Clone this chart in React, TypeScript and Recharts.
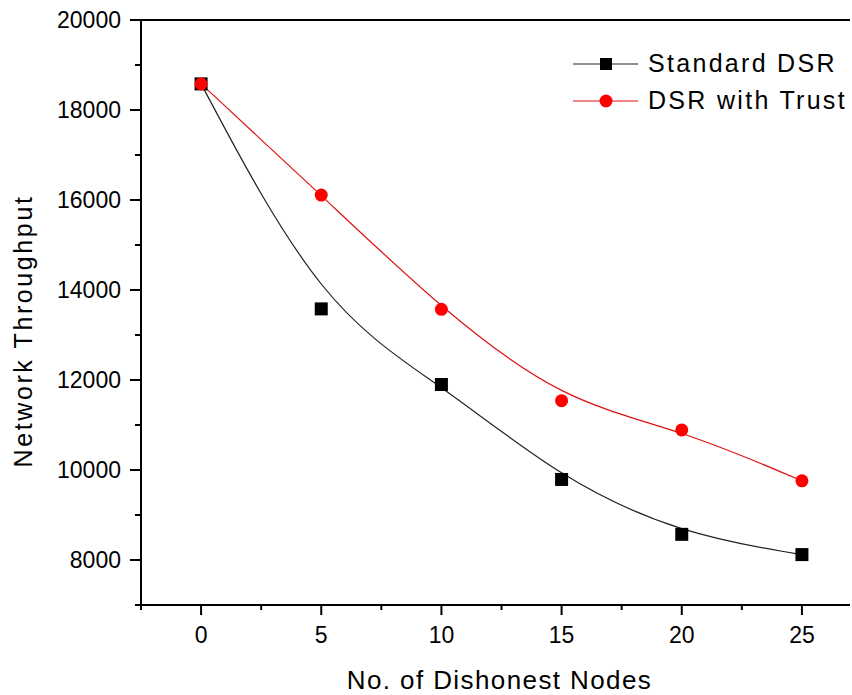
import React from "react";
import { LineChart, Line, XAxis, YAxis, ReferenceLine, Legend } from "recharts";

// dishonest node counts and measured throughput per scheme
const nodes = [0, 5, 10, 15, 20, 25];
const standardDsr = [18580, 13580, 11900, 9790, 8570, 8120];
const dsrWithTrust = [18580, 16110, 13570, 11540, 10890, 9760];

const xTicks = [-2.5, 0, 2.5, 5, 7.5, 10, 12.5, 15, 17.5, 20, 22.5, 25];
const yTicks = [7000, 8000, 9000, 10000, 11000, 12000, 13000, 14000, 15000, 16000, 17000, 18000, 19000, 20000];

const FONT = "'Liberation Sans', Arial, sans-serif";
const RED = "#ff0000";
const RED_LINE = "#e01010";

const data = nodes.map((n, i) => ({ n, standard: standardDsr[i], trust: dsrWithTrust[i] }));

// major ticks carry labels, minor ticks are half length (Origin style)
const XTick = ({ x, y, payload }: any) => {
    const major = payload.value % 5 === 0;
    return (
        <g>
            <line x1={x} x2={x} y1={y} y2={y + (major ? 10 : 5)} stroke="#000" strokeWidth={2} />
            {major && (
                <text x={x} y={y + 38} textAnchor="middle" fontSize={23} fontFamily={FONT} fill="#000">
                    {payload.value}
                </text>
            )}
        </g>
    );
};

const YTick = ({ x, y, payload }: any) => {
    const major = payload.value % 2000 === 0;
    return (
        <g>
            <line x1={x - (major ? 11 : 6)} x2={x} y1={y} y2={y} stroke="#000" strokeWidth={2} />
            {major && (
                <text x={x - 20} y={y + 8} textAnchor="end" fontSize={23} fontFamily={FONT} fill="#000">
                    {payload.value}
                </text>
            )}
        </g>
    );
};

const Square = (p: any) => (
    <rect key={`s-${p.index}`} x={p.cx - 6.5} y={p.cy - 6.5} width={13} height={13} fill="#000" />
);
const Circle = (p: any) => (
    <circle key={`c-${p.index}`} cx={p.cx} cy={p.cy} r={6.5} fill={RED} />
);

const legendItems = [
    { name: "Standard DSR", color: "#222", marker: "square" },
    { name: "DSR with Trust", color: RED_LINE, marker: "circle" },
];

const renderLegend = () => (
    <div style={{ fontFamily: FONT }}>
        {legendItems.map((it) => (
            <div key={it.name} style={{ display: "flex", alignItems: "center", height: 37 }}>
                <svg width={66} height={20}>
                    <line x1={0} x2={65} y1={10} y2={10} stroke={it.color} strokeWidth={1.2} />
                    {it.marker === "square"
                        ? <rect x={27} y={4} width={12} height={12} fill="#000" />
                        : <circle cx={33} cy={10} r={6.5} fill={RED} />}
                </svg>
                <span style={{ marginLeft: 9, fontSize: 25, letterSpacing: 2.3, color: "#000" }}>{it.name}</span>
            </div>
        ))}
    </div>
);

export default function App() {
    return (
        <div style={{ position: "absolute", left: 0, top: 0, width: 852, height: 695, background: "#fff" }}>
            <LineChart width={852} height={695} data={data} margin={{ top: 20, right: 2, bottom: 0, left: 0 }}>
                <XAxis dataKey="n" type="number" domain={[-2.5, 27]} ticks={xTicks} interval={0}
                       height={90} tickSize={0} tickMargin={0} tickLine={false} tick={XTick}
                       axisLine={{ stroke: "#000", strokeWidth: 2 }}
                       label={{
                           content: ({ viewBox }: any) => (
                               <text x={viewBox.x + viewBox.width / 2 + 4} y={689} textAnchor="middle"
                                     fontSize={26} letterSpacing={1.4} fontFamily={FONT} fill="#000">
                                   No. of Dishonest Nodes
                               </text>
                           ),
                       }} />
                <YAxis type="number" domain={[7000, 20000]} ticks={yTicks} interval={0} width={141}
                       tickSize={0} tickMargin={0} tickLine={false} tick={YTick}
                       axisLine={{ stroke: "#000", strokeWidth: 2 }}
                       label={{
                           content: () => (
                               <text x={32} y={331} transform="rotate(-90 32 331)" textAnchor="middle"
                                     fontSize={25} letterSpacing={2.6} fontFamily={FONT} fill="#000">
                                   Network Throughput
                               </text>
                           ),
                       }} />
                <ReferenceLine y={20000} stroke="#000" strokeWidth={2} />
                {/* center + middle so the legend reserves no chart space */}
                <Legend content={renderLegend} layout="horizontal" verticalAlign="middle" align="center"
                        wrapperStyle={{ top: 45, left: 573, width: 280 }} />
                <Line dataKey="standard" name="Standard DSR" type="basis" stroke="#222" strokeWidth={1.2}
                      dot={Square} activeDot={false} isAnimationActive={false} />
                <Line dataKey="trust" name="DSR with Trust" type="basis" stroke={RED_LINE} strokeWidth={1.2}
                      dot={Circle} activeDot={false} isAnimationActive={false} />
            </LineChart>
        </div>
    );
}
